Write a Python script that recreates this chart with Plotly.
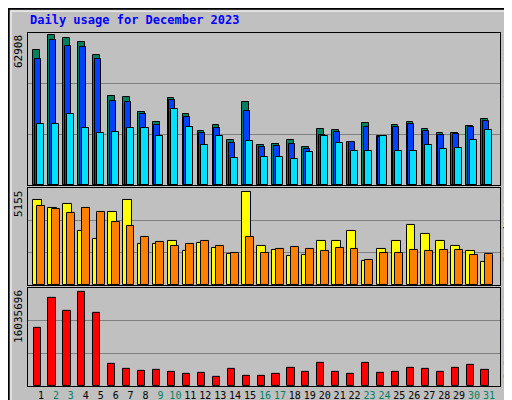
import plotly.graph_objects as go

days = list(range(1, 32))
weekend = [2, 3, 9, 10, 16, 17, 23, 24, 30, 31]

hits = [55780, 62070, 60810, 59130, 53680, 36900, 36490, 30200, 26000, 36070, 29360, 22230,
        24740, 18870, 34390, 16780, 17200, 18870, 15940, 23070, 22650, 18030, 25580, 20130,
        24740, 26000, 23070, 21390, 21390, 24330, 27260]
files = [52010, 59970, 57460, 57040, 52010, 34810, 34390, 29360, 24740, 35230, 28100, 21390,
         23490, 17610, 30620, 15940, 16360, 17200, 15100, 20550, 21810, 18030, 23910, 19710,
         23910, 25160, 22230, 20550, 20970, 23910, 26420]
pages = [25160, 25160, 29360, 23490, 21390, 21810, 23490, 23490, 20130, 31450, 23910, 16780,
         20130, 11320, 18450, 11740, 11740, 10900, 13840, 20130, 17610, 14260, 14260, 20130,
         14260, 14260, 16780, 15100, 15520, 18870, 22650]
visits = [4514, 4103, 4299, 2854, 2426, 3871, 4514, 2159, 2159, 2319, 1784, 2212, 1945, 1677,
          4942, 2052, 1838, 1570, 1623, 2319, 2319, 2854, 1302, 1891, 2319, 3176, 2694, 2319,
          2052, 1784, 1249]
sites = [4192, 4032, 3818, 4085, 3871, 3336, 3122, 2533, 2266, 2052, 2159, 2319, 2052, 1730,
         2533, 1730, 1891, 1998, 1891, 1784, 1945, 1891, 1356, 1730, 1730, 1838, 1784, 1838,
         1838, 1623, 1677]
kbytes = [9476000, 14354000, 12335000, 15363000, 11999000, 3588000, 2747000, 2411000, 2579000,
          2243000, 1906000, 2075000, 1570000, 2747000, 1738000, 1738000, 1906000, 2916000,
          2243000, 3757000, 2243000, 1906000, 3757000, 2075000, 2243000, 2916000, 2747000,
          2243000, 2916000, 3420000, 2579000]
max_hits, max_visits, max_kb = 62908, 5155, 16035696

FONT = "DejaVu Sans Mono"
line = dict(color="black", width=1)

fig = go.Figure()
def bar(y, color, off, w, ax):
    fig.add_trace(go.Bar(x=days, y=y, offset=off, width=w, marker=dict(color=color, line=line),
                         xaxis="x" + ax, yaxis="y" + ax))

bar(hits, "#00805c", -0.51, 0.45, "")
bar(files, "#0040ff", -0.4, 0.4, "")
bar(pages, "#00e0ff", -0.27, 0.47, "")
bar(visits, "#ffff00", -0.52, 0.6, "2")
bar(sites, "#ff8000", -0.27, 0.53, "2")
bar(kbytes, "#ff0000", -0.5, 0.48, "3")

xr = [0.13, 31.74]
ax_common = dict(range=xr, showgrid=False, zeroline=False, showline=True, linecolor="black",
                 mirror=True, fixedrange=True, automargin=False)
ticktext = ['<span style="color:#008060">%d</span>' % d if d in weekend else str(d) for d in days]
fig.update_layout(
    xaxis=dict(ax_common, anchor="y", showticklabels=False, ticks=""),
    xaxis2=dict(ax_common, anchor="y2", showticklabels=False, ticks=""),
    xaxis3=dict(ax_common, anchor="y3", tickvals=days, ticktext=ticktext, ticks="",
                tickangle=0, tickfont=dict(family=FONT, size=10, color="black")),
)
def yax(mx, dom):
    return dict(domain=dom, range=[0, mx], tickvals=[mx / 3, 2 * mx / 3], showticklabels=False,
                gridcolor="#808080", gridwidth=1, zeroline=False, showline=True, linecolor="black",
                mirror=True, ticks="", automargin=False)
fig.update_layout(yaxis=yax(max_hits, [0.569, 1]), yaxis2=yax(max_visits, [0.286, 0.561]),
                  yaxis3=yax(max_kb, [0, 0.278]))

def vlabel(txt, y, yanchor, x, xanchor, size=10):
    fig.add_annotation(text=txt, xref="paper", yref="paper", x=x, y=y, xanchor=xanchor,
                       yanchor=yanchor, textangle=-90, showarrow=False,
                       font=dict(family=FONT, size=size, color="black"))

vlabel(str(max_hits), 1, "top", -0.002, "right", 11)
vlabel(str(max_visits), 0.561, "top", -0.002, "right", 11)
vlabel(str(max_kb), 0.278, "top", -0.002, "right", 11)
def sp(t, c):
    return '<span style="color:%s">%s</span>' % (c, t)
vlabel(sp("Pages", "#00e0ff") + "/" + sp("Files", "#0040ff") + "/" + sp("Hits", "#008060"),
       1, "top", 1.002, "left")
vlabel(sp("Sites", "#ff8000") + "/" + sp("Visits", "#ffff00"), 0.561, "top", 1.002, "left")
vlabel(sp("kB F", "#ff0000") + "/" + sp("kB In", "#0080ff") + "/" + sp("kB Out", "#00c000"),
       0, "bottom", 1.002, "left")

fig.add_annotation(text="<b>Daily usage for December 2023</b>", xref="paper", yref="paper",
                   x=0, y=1.01, xanchor="left", yanchor="bottom", showarrow=False,
                   font=dict(family=FONT, size=12, color="#0000ff"))

# outer bevelled frame
fig.add_shape(type="rect", xref="paper", yref="paper", x0=-0.041, x1=1.041, y0=-0.061, y1=1.069,
              line=dict(color="black", width=2))
fig.add_shape(type="rect", xref="paper", yref="paper", x0=-0.036, x1=1.033, y0=-0.053, y1=1.062,
              line=dict(color="white", width=1))

fig.update_layout(width=512, height=400, margin=dict(l=20, r=20, t=25, b=22, autoexpand=False),
                  paper_bgcolor="#c0c0c0", plot_bgcolor="#c0c0c0", barmode="overlay",
                  showlegend=False, bargap=0)
fig.write_html("out.html")
